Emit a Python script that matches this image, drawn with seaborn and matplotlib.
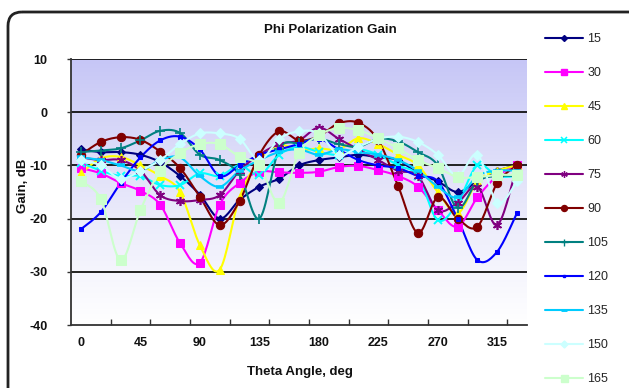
import numpy as np
import pandas as pd
import matplotlib
matplotlib.use("Agg")
import matplotlib.pyplot as plt
from matplotlib.lines import Line2D
from matplotlib.patches import FancyBboxPatch
from matplotlib.colors import LinearSegmentedColormap
import seaborn as sns

# ---- data -------------------------------------------------------------
theta = list(range(0, 331, 15))
series_names = ["15", "30", "45", "60", "75", "90", "105", "120", "135", "150", "165"]

g15 = [-7, -7.5, -7.5, -8, -9.4, -12, -15.5, -20, -16.5, -14, -12.5, -10, -9, -8.5, -8, -8.5, -9, -11.5, -13, -15, -13, -11, -10]
g30 = [-10.5, -11.5, -13.3, -14.8, -17.4, -24.6, -28.3, -17.4, -13.3, -11.2, -11.3, -11.4, -11.2, -10.3, -10.1, -10.9, -12, -14, -18.4, -21.5, -16, -12, -10]
g45 = [-11.5, -8.7, -8.4, -10, -12, -15, -25, -29.6, -16, -9, -6.2, -7.1, -6.8, -7, -4.9, -6, -8, -10, -15, -19, -13, -11, -10]
g60 = [-9.5, -11, -12, -12, -13.7, -13.7, -11.5, -12, -10, -11.8, -8, -6.5, -7.5, -8, -7, -8, -10, -12, -20.3, -17, -10, -12, -12]
g75 = [-8.5, -9, -9, -11, -15.6, -16.7, -16.5, -15.6, -11, -8, -6, -5.3, -2.9, -5, -7, -9, -11, -12, -18.4, -17, -14, -21.2, -10]
g90 = [-8, -5.6, -4.7, -5.2, -7.4, -10.5, -15.9, -21.2, -16.7, -8, -3.6, -5.3, -4.5, -2.1, -2, -5.3, -13.9, -22.7, -16, -20, -21.5, -13.3, -10]
g105 = [-7.5, -7.2, -6.8, -5.3, -3.5, -3.9, -8, -9, -11.8, -20, -7, -5.8, -5, -6, -6.5, -5, -5.5, -7.5, -10, -18, -13, -12, -12]
g120 = [-22, -18.8, -13.3, -8.5, -5.3, -4.6, -7, -12, -10, -8, -7, -6, -5, -7, -9, -10, -10.5, -12, -13, -20, -27.8, -26.2, -18.9]
g135 = [-8.5, -9, -10, -11, -9, -8.5, -12, -14, -11, -9, -7.5, -7, -8, -7, -7.5, -8, -9, -11, -14, -16, -12, -11, -11]
g150 = [-9, -10, -12.5, -11, -9, -6, -4, -4, -5, -9, -5, -3.6, -4, -8, -6.5, -5, -4.6, -5.6, -8, -12, -8, -17, -13]
g165 = [-13, -16.3, -27.8, -18.4, -11, -7.7, -6, -6, -8.4, -10, -17, -7.7, -4.3, -3, -3.4, -4.9, -6.8, -9, -10.5, -12.2, -12.2, -11.8, -11.8]

gains = [g15, g30, g45, g60, g75, g90, g105, g120, g135, g150, g165]

x_ticks = [0, 45, 90, 135, 180, 225, 270, 315]
y_ticks = [-40, -30, -20, -10, 0, 10]

# ---- styles -----------------------------------------------------------
colors = ["#000080", "#FF00FF", "#FFFF00", "#00FFFF", "#800080", "#800000",
          "#008080", "#0000FF", "#00CCFF", "#CCFFFF", "#CCFFCC"]
marker_specs = [
    dict(marker="D", markersize=4.2),
    dict(marker="s", markersize=5.5),
    dict(marker="^", markersize=6),
    dict(marker="x", markersize=5.5, markeredgewidth=1.4),
    dict(marker=(6, 2, 0), markersize=6.5, markeredgewidth=1.2),
    dict(marker="o", markersize=6),
    dict(marker="+", markersize=7, markeredgewidth=1.2),
    dict(marker="s", markersize=2.6),
    dict(marker="_", markersize=5.5, markeredgewidth=2.6),
    dict(marker="D", markersize=5),
    dict(marker="s", markersize=7),
]

FONT = "Liberation Sans"
sns.set_theme(style="white")
plt.rcParams["font.family"] = [FONT, "DejaVu Sans"]


def smooth_curve(x, y, n=16):
    """Catmull-Rom spline through the points, for smooth line drawing."""
    x = np.asarray(x, float)
    y = np.asarray(y, float)
    px = np.concatenate([[x[0]], x, [x[-1]]])
    py = np.concatenate([[y[0]], y, [y[-1]]])
    xs, ys = [], []
    t = np.linspace(0, 1, n, endpoint=False)
    for i in range(1, len(px) - 2):
        for arr, out in ((px, xs), (py, ys)):
            p0, p1, p2, p3 = arr[i - 1], arr[i], arr[i + 1], arr[i + 2]
            out.extend(0.5 * ((2 * p1) + (-p0 + p2) * t
                              + (2 * p0 - 5 * p1 + 4 * p2 - p3) * t ** 2
                              + (-p0 + 3 * p1 - 3 * p2 + p3) * t ** 3))
    xs.append(x[-1])
    ys.append(y[-1])
    return np.array(xs), np.array(ys)


raw = pd.DataFrame({
    "theta": np.tile(theta, len(series_names)),
    "gain": np.concatenate(gains),
    "series": np.repeat(series_names, len(theta)),
})

W, H = 629, 388
fig = plt.figure(figsize=(W / 100, H / 100), dpi=100)
fig.patch.set_facecolor("white")

# chart-area frame with rounded corner
bg = fig.add_axes([0, 0, 1, 1], zorder=-5)
bg.set_xlim(0, W)
bg.set_ylim(H, 0)
bg.axis("off")
bg.add_patch(FancyBboxPatch((8, 12), 700, 500, boxstyle="round,pad=0,rounding_size=14",
                            fill=False, edgecolor="#222222", linewidth=2.0, clip_on=True))

left, right, top, bottom = 71, 527, 59, 325
ax = fig.add_axes([left / W, 1 - bottom / H, (right - left) / W, (bottom - top) / H])
ax.set_xlim(-7.5, 337.5)
ax.set_ylim(-40, 10)

# plot-area gradient fill
cmap = LinearSegmentedColormap.from_list("plotbg", ["#FFFFFF", "#E6E6FA", "#C6C6F6"])
grad = np.linspace(0, 1, 256).reshape(-1, 1)
ax.imshow(grad, extent=[-7.5, 337.5, -40, 10], origin="lower", aspect="auto",
          cmap=cmap, zorder=0)

for yv in [10, 0, -10, -20, -30]:
    ax.axhline(yv, color="#111111", lw=1.3, zorder=1)

for name, col, spec in zip(series_names, colors, marker_specs):
    sub = raw[raw["series"] == name]
    sx, sy = smooth_curve(sub["theta"], sub["gain"])
    sns.lineplot(x=sx, y=sy, color=col, lw=1.5, ax=ax, sort=False,
                 estimator=None, legend=False, zorder=3)
    sns.lineplot(data=sub, x="theta", y="gain", color=col, linestyle="",
                 ax=ax, estimator=None, legend=False, zorder=4,
                 markeredgecolor=col, markerfacecolor=col, **spec)

ax.set_xlabel("")
ax.set_ylabel("")
ax.set_xticks(x_ticks)
ax.set_xticklabels([str(v) for v in x_ticks])
ax.set_xticks(np.arange(22.5, 330, 30), minor=True)
ax.set_yticks(y_ticks)
ax.set_yticklabels([str(v) for v in y_ticks])
ax.tick_params(axis="x", which="major", length=0, pad=9, labelsize=9)
ax.tick_params(axis="x", which="minor", length=4, width=1, direction="in",
               color="#333333", bottom=True)
ax.tick_params(axis="y", which="major", length=3, width=1, direction="out",
               pad=14, labelsize=9, color="#333333", left=True)
for lab in ax.get_xticklabels() + ax.get_yticklabels():
    lab.set_fontweight("bold")
    lab.set_color("#111111")

for side in ["top", "right"]:
    ax.spines[side].set_visible(False)
for side in ["left", "bottom"]:
    ax.spines[side].set_visible(True)
    ax.spines[side].set_color("#333333")
    ax.spines[side].set_linewidth(1.3)

fig.text(330 / W, 1 - 30 / H, "Phi Polarization Gain", ha="center", va="center",
         fontsize=9.5, fontweight="bold", color="#111111")
fig.text(300 / W, 1 - 372 / H, "Theta Angle, deg", ha="center", va="center",
         fontsize=9.5, fontweight="bold", color="#111111")
fig.text(23 / W, 1 - 186 / H, "Gain, dB", ha="center", va="center", rotation=90,
         fontsize=9.5, fontweight="bold", color="#111111")

legend_specs = []
for s in marker_specs:
    d = dict(s)
    d["markersize"] = s["markersize"] * 0.72
    if "markeredgewidth" in d:
        d["markeredgewidth"] = s["markeredgewidth"] * 0.8
    legend_specs.append(d)
handles = [Line2D([0], [0], color=c, lw=1.5, markeredgecolor=c, markerfacecolor=c, **s)
           for c, s in zip(colors, legend_specs)]
fig.legend(handles, series_names, loc="upper left", bbox_to_anchor=(545 / W, 1 - 33 / H),
           frameon=False, fontsize=9, handlelength=3.05, handletextpad=0.35,
           labelspacing=1.76, borderaxespad=0, borderpad=0)

fig.savefig("out.png", dpi=100)
